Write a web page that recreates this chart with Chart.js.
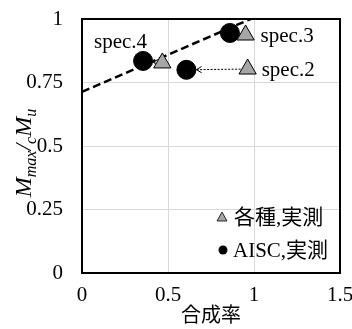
<!DOCTYPE html>
<html><head><meta charset="utf-8">
<script src="https://cdn.jsdelivr.net/npm/chart.js@4/dist/chart.umd.min.js"></script>
<style>html,body{margin:0;padding:0;background:#fff}#w{width:352px;height:329px}</style>
</head><body><div id="w"><canvas id="c" width="352" height="329"></canvas></div>
<script>
const specLabels = ["spec.2", "spec.3", "spec.4"];
const kakushuX = [0.963, 0.951, 0.467];
const kakushuY = [0.803, 0.937, 0.827];
const aiscX = [0.607, 0.860, 0.355];
const aiscY = [0.800, 0.945, 0.835];
const trendX = [0, 0.98];
const trendY = [0.713, 1.0];
const xTicks = [0, 0.5, 1, 1.5];
const yTicks = [0, 0.25, 0.5, 0.75, 1];
const seriesNames = ["各種,実測", "AISC,実測"];
const xTitle = "合成率";

const FONT = '"Liberation Serif", "Noto Sans CJK JP", serif';
const pts = (xs, ys) => xs.map((x, i) => ({x, y: ys[i]}));

const overlay = {
  id: 'overlay',
  beforeDatasetsDraw(chart) {
    const {ctx, chartArea: a} = chart;
    ctx.save();
    ctx.strokeStyle = '#000'; ctx.lineWidth = 2;
    ctx.strokeRect(a.left, a.top, a.right - a.left, a.bottom - a.top);
    const xs = chart.scales.x, ys = chart.scales.y;
    ctx.lineWidth = 1; ctx.setLineDash([2, 1.5]);
    for (let i = 0; i < kakushuX.length; i++) {
      const x1 = xs.getPixelForValue(kakushuX[i]), y1 = ys.getPixelForValue(kakushuY[i]);
      const x2 = xs.getPixelForValue(aiscX[i]), y2 = ys.getPixelForValue(aiscY[i]);
      const ang = Math.atan2(y2 - y1, x2 - x1);
      const ex = x2 - Math.cos(ang) * 10, ey = y2 - Math.sin(ang) * 10;
      ctx.beginPath(); ctx.moveTo(x1, y1); ctx.lineTo(ex, ey); ctx.stroke();
      ctx.save(); ctx.setLineDash([]);
      ctx.beginPath();
      ctx.moveTo(ex + Math.cos(ang + 2.6) * 6, ey + Math.sin(ang + 2.6) * 6);
      ctx.lineTo(ex, ey);
      ctx.lineTo(ex + Math.cos(ang - 2.6) * 6, ey + Math.sin(ang - 2.6) * 6);
      ctx.stroke(); ctx.restore();
    }
    ctx.restore();
  },
  afterDraw(chart) {
    const {ctx} = chart;
    const xs = chart.scales.x, ys = chart.scales.y;
    ctx.save();
    ctx.fillStyle = '#000';
    ctx.font = '21px ' + FONT;
    ctx.textBaseline = 'middle';
    const lbl = [
      {t: specLabels[0], px: xs.getPixelForValue(kakushuX[0]) + 14, py: ys.getPixelForValue(kakushuY[0]) + 1, al: 'left'},
      {t: specLabels[1], px: xs.getPixelForValue(kakushuX[1]) + 15, py: ys.getPixelForValue(kakushuY[1]) + 1, al: 'left'},
      {t: specLabels[2], px: xs.getPixelForValue(aiscX[2]) + 4, py: ys.getPixelForValue(aiscY[2]) - 18, al: 'right'}
    ];
    lbl.forEach(l => { ctx.textAlign = l.al; ctx.fillText(l.t, l.px, l.py); });
    // legend
    ctx.textAlign = 'left';
    ctx.font = '21px ' + FONT;
    const lx = 222, l1 = 217, l2 = 250;
    ctx.fillStyle = '#a6a6a6'; ctx.strokeStyle = '#000'; ctx.lineWidth = 0.8;
    ctx.beginPath(); ctx.moveTo(lx, l1 - 5); ctx.lineTo(lx + 5, l1 + 4); ctx.lineTo(lx - 5, l1 + 4); ctx.closePath();
    ctx.fill(); ctx.stroke();
    ctx.fillStyle = '#000';
    ctx.beginPath(); ctx.arc(lx + 1, l2, 4.5, 0, Math.PI * 2); ctx.fill();
    ctx.fillText(seriesNames[0], lx + 12, l1 + 1);
    ctx.fillText(seriesNames[1], lx + 11, l2 + 1);
    // y-axis title
    ctx.translate(23, 153);
    ctx.rotate(-Math.PI / 2);
    const parts = [
      {t: 'M', f: 'italic 24px', dy: 0},
      {t: 'max', f: 'italic 16px', dy: 5},
      {t: '/', f: 'italic 24px', dy: 0},
      {t: 'c', f: 'italic 16px', dy: 5},
      {t: 'M', f: 'italic 24px', dy: 0},
      {t: 'u', f: 'italic 16px', dy: 5}
    ];
    let w = 0;
    parts.forEach(p => { ctx.font = p.f + ' ' + FONT; p.w = ctx.measureText(p.t).width; w += p.w; });
    let x = -w / 2;
    ctx.textBaseline = 'alphabetic';
    parts.forEach(p => { ctx.font = p.f + ' ' + FONT; ctx.fillText(p.t, x, 8 + p.dy); x += p.w; });
    ctx.restore();
  }
};

new Chart(document.getElementById('c'), {
  type: 'scatter',
  data: {
    datasets: [
      {label: 'trend', type: 'line', data: pts(trendX, trendY), borderColor: '#000', borderWidth: 2.5,
       borderDash: [8, 4], pointRadius: 0, fill: false, order: 3},
      {label: seriesNames[0], data: pts(kakushuX, kakushuY), pointStyle: 'triangle', pointRadius: 10,
       backgroundColor: '#a6a6a6', borderColor: '#000', borderWidth: 1, order: 1},
      {label: seriesNames[1], data: pts(aiscX, aiscY), pointStyle: 'circle', pointRadius: 9.5,
       backgroundColor: '#000', borderColor: '#000', borderWidth: 1, order: 2}
    ]
  },
  options: {
    responsive: false, animation: false,
    layout: {padding: {left: 0, right: 12, top: 19, bottom: 0}},
    plugins: {legend: {display: false}, tooltip: {enabled: false}},
    scales: {
      x: {
        type: 'linear', min: 0, max: 1.5,
        afterBuildTicks: s => { s.ticks = xTicks.map(v => ({value: v})); },
        afterFit: s => { s.height = 56; s.paddingLeft = 0; s.paddingRight = 0; },
        grid: {color: '#d9d9d9', drawTicks: false},
        border: {display: false},
        ticks: {padding: 10, color: '#000', font: {family: FONT, size: 21}, maxRotation: 0,
                callback: v => String(v)},
        title: {display: true, text: xTitle, color: '#000', font: {family: FONT, size: 20}, padding: {top: -4, bottom: 0}}
      },
      y: {
        type: 'linear', min: 0, max: 1,
        afterBuildTicks: s => { s.ticks = yTicks.map(v => ({value: v})); },
        afterFit: s => { s.width = 82; s.paddingTop = 0; s.paddingBottom = 0; },
        grid: {color: '#d9d9d9', drawTicks: false},
        border: {display: false},
        ticks: {padding: 19, color: '#000', font: {family: FONT, size: 21}, callback: v => String(v)}
      }
    }
  },
  plugins: [overlay]
});
</script></body></html>
